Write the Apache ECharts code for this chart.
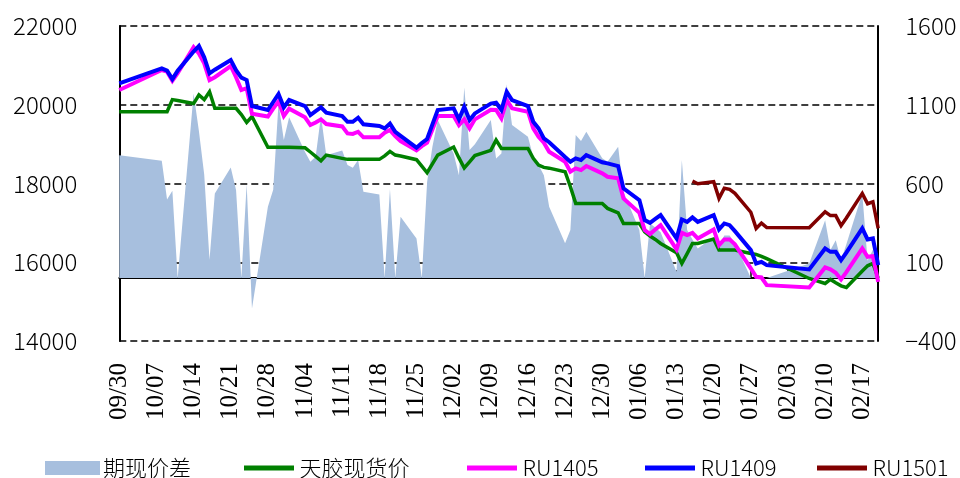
<!DOCTYPE html>
<html><head><meta charset="utf-8">
<script src="https://cdn.jsdelivr.net/npm/echarts@6/dist/echarts.min.js"></script>
<style>html,body{margin:0;padding:0;background:#fff}#c{width:960px;height:478px}</style>
</head><body><div id="c"></div>
<script>
// Axis range (calendar days)
const axisStart = [2013, 9, 30];
const axisEnd = [2014, 2, 20];

// Trading days that carry data
const tradeDates = [
 '09/30',
 '10/08','10/09','10/10','10/11',
 '10/14','10/15','10/16','10/17','10/18',
 '10/21','10/22','10/23','10/24','10/25',
 '10/28','10/29','10/30','10/31','11/01',
 '11/04','11/05','11/06','11/07','11/08',
 '11/11','11/12','11/13','11/14','11/15',
 '11/18','11/19','11/20','11/21','11/22',
 '11/25','11/26','11/27','11/28','11/29',
 '12/02','12/03','12/04','12/05','12/06',
 '12/09','12/10','12/11','12/12','12/13',
 '12/16','12/17','12/18','12/19','12/20',
 '12/23','12/24','12/25','12/26','12/27',
 '12/30','12/31',
 '01/02','01/03',
 '01/06','01/07','01/08','01/09','01/10',
 '01/13','01/14','01/15','01/16','01/17',
 '01/20','01/21','01/22','01/23','01/24',
 '01/27','01/28','01/29','01/30',
 '02/07',
 '02/10','02/11','02/12','02/13','02/14',
 '02/17','02/18','02/19','02/20'
];

// 期现价差 (right axis)
const basis = [
 780,
 744,499,554,0,
 1172,933,657,116,537,
 702,558,0,595,-193,
 452,560,1110,876,1020,
 800,738,770,1030,780,
 810,717,700,750,547,
 530,0,565,0,389,
 251,0,610,833,1003,
 791,653,1210,812,850,
 1003,759,791,1230,971,
 897,770,717,653,452,
 220,304,908,870,929,
 760,738,
 833,547,
 304,0,346,320,290,
 39,749,304,245,188,
 260,200,270,270,220,
 0,0,0,0,
 92,
 367,177,240,113,215,
 537,110,180,0
];

// 天胶现货价
const spot = [
 19822,
 19822,19822,20130,20110,
 20030,20247,20130,20331,19909,
 19909,19909,19750,19550,19700,
 18918,18918,18918,18918,18918,
 18907,18800,18690,18578,18722,
 18638,18613,18613,18613,18613,
 18613,18700,18815,18722,18697,
 18605,18440,18273,18500,18722,
 18926,18650,18395,18550,18710,
 18840,19102,18892,18892,18892,
 18892,18638,18468,18409,18390,
 18298,17917,17495,17495,17495,
 17495,17368,
 17256,16986,
 16986,16773,16664,16580,16478,
 16240,15970,16220,16478,16478,
 16590,16308,16308,16308,16308,
 16224,16200,16150,16090,
 15588,
 15461,15563,15478,15400,15360,
 15780,15910,15970,15600
];

// RU1405
const ru1405 = [
 20374,
 20882,20839,20610,20800,
 21460,21300,21050,20628,20700,
 20984,20700,20374,20420,19770,
 19700,19900,20085,19713,19900,
 19680,19484,19550,19629,19510,
 19450,19273,19260,19314,19172,
 19172,19290,19357,19205,19078,
 18840,18950,19035,19373,19713,
 19713,19484,19629,19400,19629,
 19875,19866,19655,20120,19909,
 19822,19400,19187,19035,18806,
 18552,18298,18384,18341,18443,
 18257,18171,
 18130,17622,
 17256,16816,16715,16830,16943,
 16326,16748,16689,16748,16605,
 16834,16435,16580,16580,16453,
 15843,15630,15613,15419,
 15360,
 15868,15818,15732,15563,15750,
 16351,16138,16156,15503
];

// RU1409
const ru1409 = [
 20544,
 20925,20865,20650,20864,
 21350,21490,21205,20798,20890,
 21136,20880,20690,20628,19967,
 19866,20070,20272,19934,20120,
 19967,19739,19840,19934,19797,
 19713,19568,19568,19670,19502,
 19460,19400,19520,19314,19210,
 18910,19030,19130,19500,19866,
 19909,19629,19950,19610,19780,
 20030,20052,19866,20331,20120,
 19967,19568,19400,19146,19048,
 18671,18552,18638,18595,18722,
 18540,18511,
 18443,17876,
 17579,17071,17002,17100,17198,
 16605,17088,17027,17139,17027,
 17198,16834,16986,16943,16790,
 16308,15970,16011,15927,
 15818,
 16351,16265,16265,16054,16245,
 16860,16580,16605,15927
];

// RU1501 (listed from 01/16)
const ru1501 = [
 null,
 null,null,null,null,
 null,null,null,null,null,
 null,null,null,null,null,
 null,null,null,null,null,
 null,null,null,null,null,
 null,null,null,null,null,
 null,null,null,null,null,
 null,null,null,null,null,
 null,null,null,null,null,
 null,null,null,null,null,
 null,null,null,null,null,
 null,null,null,null,null,
 null,null,
 null,null,
 null,null,null,null,null,
 null,null,null,18061,17995,
 18044,17622,17880,17850,17750,
 17270,16860,16994,16880,
 16875,
 17282,17185,17185,16930,17124,
 17749,17486,17536,16860
];

const leftTicks = {min: 14000, max: 22000, interval: 2000};
const rightTicks = {min: -400, max: 1600, interval: 500};
const names = ['期现价差', '天胶现货价', 'RU1405', 'RU1409', 'RU1501'];

// build calendar-day category axis
const cats = [];
for (let t = Date.UTC(axisStart[0], axisStart[1]-1, axisStart[2]); t <= Date.UTC(axisEnd[0], axisEnd[1]-1, axisEnd[2]); t += 86400000) {
  const d = new Date(t);
  cats.push(String(d.getUTCMonth()+1).padStart(2,'0') + '/' + String(d.getUTCDate()).padStart(2,'0'));
}
function pairs(vals) {
  const out = [];
  tradeDates.forEach((d, i) => { if (vals[i] !== null) out.push([cats.indexOf(d), vals[i]]); });
  return out;
}

const numFont = 'Noto Sans CJK SC';
const chart = echarts.init(document.getElementById('c'), null, {renderer: 'canvas'});
const lineIcon = 'path://M0,0L60,0L60,6L0,6Z';
function lg(name, left, icon, h) {
  return {
    data: [name], left: left, top: 452, icon: icon, itemWidth: 55, itemHeight: h,
    itemGap: 4, textStyle: {fontFamily: numFont, fontWeight: 300, fontSize: 22, color: '#000', padding: [0,0,0,-2]}
  };
}
const lineSeries = (name, vals, color, w) => ({
  name: name, type: 'line', xAxisIndex: 0, yAxisIndex: 0, data: pairs(vals),
  showSymbol: false, symbol: 'none', connectNulls: true, animation: false,
  lineStyle: {color: color, width: w, join: 'miter'}, itemStyle: {color: color}
});
const plain = v => (v < 0 ? '\u2212' + Math.abs(v) : String(v));

chart.setOption({
  animation: false,
  backgroundColor: '#fff',
  grid: {left: 119.3, right: 81.8, top: 26, bottom: 137, containLabel: false},
  legend: [
    lg(names[0], 40, 'rect', 14),
    lg(names[1], 239, lineIcon, 5),
    lg(names[2], 462, lineIcon, 5),
    lg(names[3], 640, lineIcon, 5),
    lg(names[4], 812, lineIcon, 5)
  ],
  xAxis: {
    type: 'category', data: cats, boundaryGap: false,
    axisLine: {lineStyle: {color: '#000', width: 2}},
    axisTick: {inside: true, length: 8, interval: 6, lineStyle: {color: '#000', width: 1.5}},
    axisLabel: {interval: 6, rotate: 90, margin: 22, color: '#000', fontFamily: 'Liberation Serif', fontSize: 25},
    splitLine: {show: false}
  },
  yAxis: [
    {
      type: 'value', position: 'left', min: leftTicks.min, max: leftTicks.max, interval: leftTicks.interval,
      axisLine: {show: true, lineStyle: {color: '#000', width: 2}},
      axisTick: {show: false},
      axisLabel: {margin: 42, color: '#000', fontFamily: numFont, fontWeight: 300, fontSize: 24, formatter: plain},
      splitLine: {show: true, lineStyle: {color: '#000', width: 1.5, type: [7, 4]}}
    },
    {
      type: 'value', position: 'right', min: rightTicks.min, max: rightTicks.max, interval: rightTicks.interval,
      axisLine: {show: true, lineStyle: {color: '#000', width: 2}},
      axisTick: {show: false},
      axisLabel: {margin: 27, color: '#000', fontFamily: numFont, fontWeight: 300, fontSize: 24, formatter: plain},
      splitLine: {show: false}
    }
  ],
  series: [
    {
      name: names[0], type: 'line', yAxisIndex: 1, data: pairs(basis),
      showSymbol: false, symbol: 'none', connectNulls: true,
      lineStyle: {width: 0, color: '#a7bfde'}, itemStyle: {color: '#a7bfde'},
      areaStyle: {color: '#a7bfde', opacity: 1}, z: 1
    },
    lineSeries(names[1], spot, '#008000', 3.5),
    lineSeries(names[2], ru1405, '#ff00ff', 4),
    lineSeries(names[3], ru1409, '#0000ff', 4),
    lineSeries(names[4], ru1501, '#800000', 3.5)
  ]
});
</script>
</body></html>
